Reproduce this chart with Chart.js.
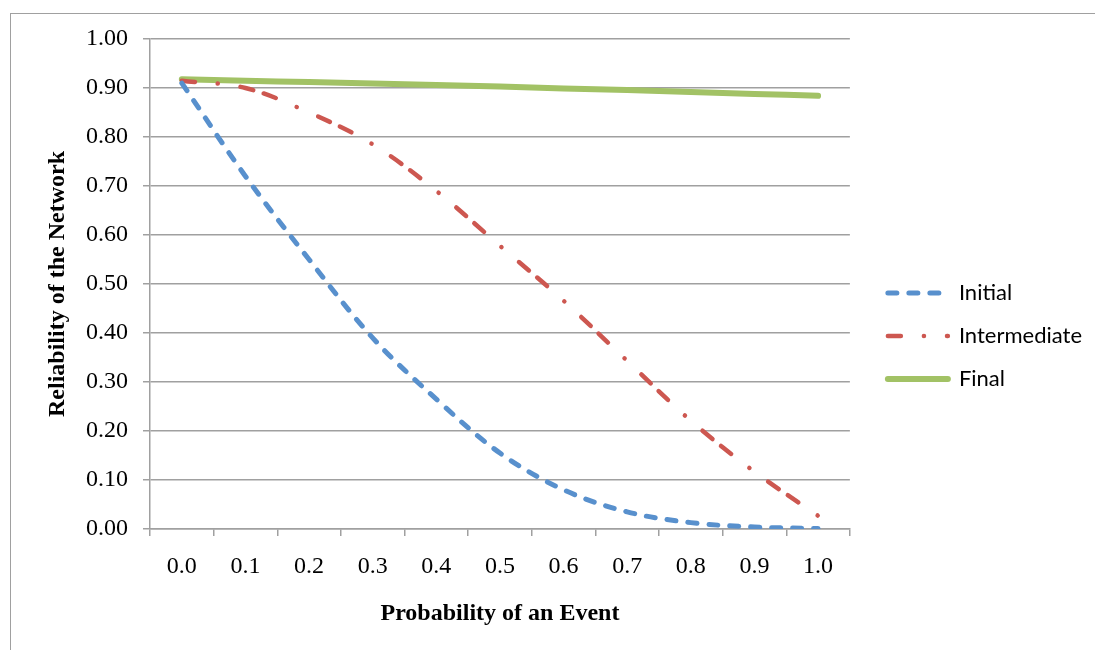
<!DOCTYPE html>
<html>
<head>
<meta charset="utf-8">
<script src="https://cdn.jsdelivr.net/npm/chart.js@4/dist/chart.umd.min.js"></script>
<style>
  body { margin: 0; background: #fff; }
  #frame { position: absolute; left: 10px; top: 13px; width: 1200px; height: 800px;
           border-left: 1.5px solid #a0a0a0; border-top: 1.5px solid #a0a0a0; }
  #c { position: absolute; left: 0; top: 0; }
</style>
</head>
<body>
<div id="frame"></div>
<canvas id="c" width="1095" height="650"></canvas>
<script>
// categories (probability of an event)
var labels = ['0.0','0.1','0.2','0.3','0.4','0.5','0.6','0.7','0.8','0.9','1.0'];

// reliability values
var initial      = [0.91, 0.72, 0.55, 0.39, 0.265, 0.155, 0.08, 0.035, 0.013, 0.004, 0.001];
var intermediate = [0.915, 0.90, 0.85, 0.785, 0.69, 0.578, 0.466, 0.343, 0.221, 0.117, 0.027];
var final        = [0.918, 0.915, 0.912, 0.909, 0.906, 0.903, 0.899, 0.896, 0.892, 0.888, 0.884];

var yTicks = { min: 0, max: 1, step: 0.1 };

var gridColor = '#a0a0a0';
var tickFont = { family: 'Liberation Serif', size: 24 };
var titleFont = { family: 'Liberation Serif', size: 24, weight: 'bold' };

var data = {
    labels: labels,
    datasets: [{
        label: 'Initial',
        data: initial,
        borderColor: '#5890cd',
        backgroundColor: '#5890cd',
        borderWidth: 5,
        borderDash: [9, 12],
        borderCapStyle: 'round',
        pointRadius: 0,
        tension: 0.35,
        fill: false
    },{
        label: 'Intermediate',
        data: intermediate,
        borderColor: '#cd5750',
        backgroundColor: '#cd5750',
        borderWidth: 4.5,
        borderDash: [13, 23, 0.1, 23, 13, 11],
        borderCapStyle: 'round',
        pointRadius: 0,
        tension: 0.35,
        fill: false
    },{
        label: 'Final',
        data: final,
        borderColor: '#a2c265',
        backgroundColor: '#a2c265',
        borderWidth: 6,
        borderCapStyle: 'round',
        pointRadius: 0,
        tension: 0.35,
        fill: false
    }]
};

var options = {
    responsive: false,
    animation: false,
    devicePixelRatio: 1,
    layout: { padding: { left: 43, top: 39, right: 3, bottom: 17 } },
    plugins: {
        legend: {
            position: 'right',
            maxWidth: 226,
            labels: {
                usePointStyle: true,
                pointStyle: 'line',
                pointStyleWidth: 60,
                padding: 21,
                color: '#000',
                font: { family: 'Lato', size: 22 },
                // legend samples take the dash pattern and width of the lines
                generateLabels: function(chart) {
                    var items = Chart.defaults.plugins.legend.labels.generateLabels(chart);
                    items.forEach(function(it) {
                        var ds = chart.data.datasets[it.datasetIndex];
                        it.lineWidth = ds.borderWidth;
                        it.lineDash = ds.borderDash || [];
                        it.lineCap = 'round';
                        it.strokeStyle = ds.borderColor;
                        it.pointStyle = 'line';
                    });
                    return items;
                }
            }
        },
        tooltip: { enabled: false }
    },
    scales: {
        x: {
            offset: true,
            grid: { offset: true, drawOnChartArea: false, tickLength: 7, color: gridColor, lineWidth: 1.5 },
            border: { color: gridColor, width: 1.5 },
            ticks: { font: tickFont, color: '#000', padding: 16, maxRotation: 0, autoSkip: false },
            title: { display: true, text: 'Probability of an Event', font: titleFont, color: '#000',
                     padding: { top: 0, bottom: 5 } },
            afterFit: function(s) { s.height = 104; }
        },
        y: {
            min: yTicks.min,
            max: yTicks.max,
            grid: { tickLength: 7, color: gridColor, lineWidth: 1.5 },
            border: { color: gridColor, width: 1.5 },
            ticks: { stepSize: yTicks.step, font: tickFont, color: '#000', padding: 15,
                     callback: function(v) { return v.toFixed(2); } },
            title: { display: true, text: 'Reliability of the Network', font: titleFont, color: '#000',
                     padding: { top: 0, bottom: 0 } },
            afterFit: function(s) { s.width = 107; }
        },
        // empty spacer between plot and legend
        gap: {
            position: 'right',
            grid: { display: false, drawTicks: false },
            border: { display: false },
            ticks: { display: false },
            afterFit: function(s) { s.width = 17; }
        }
    }
};

var ctx = document.getElementById('c').getContext('2d');
try {
    var chart = new Chart(ctx, { type: 'line', data: data, options: options });
} catch (error) {
    document.body.insertAdjacentText('beforeend', String(error));
}
</script>
</body>
</html>
